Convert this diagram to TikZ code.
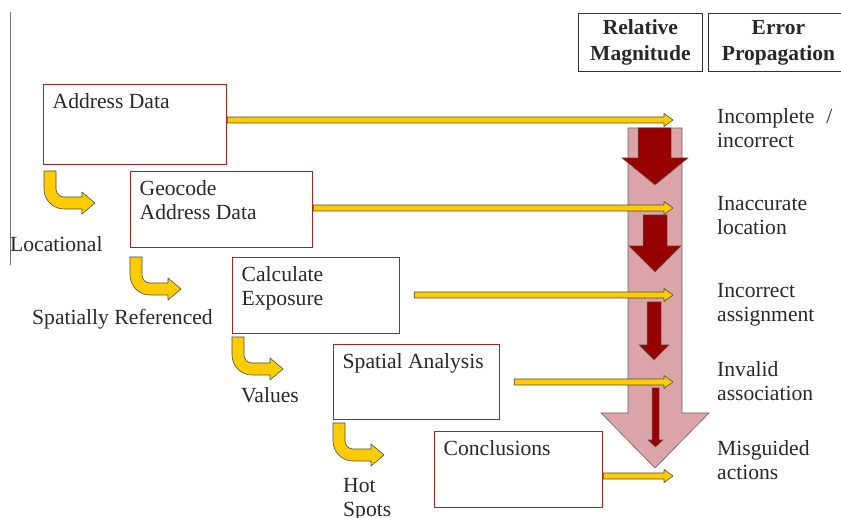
\documentclass[tikz,border=0pt]{standalone}
\usepackage{fontspec}
\setmainfont{Liberation Serif}
\usetikzlibrary{calc}
\definecolor{boxred}{RGB}{165,35,35}
\definecolor{yel}{RGB}{255,204,0}
\definecolor{pinkf}{RGB}{218,164,168}
\definecolor{dred}{RGB}{150,0,0}
\definecolor{txt}{RGB}{40,40,40}
\newcommand\harr[2]{\draw[yarr] let \p1=(#1), \p2=(#2) in
  (\x1,\y2+3pt) -- (\x2-9pt,\y2+3pt) -- (\x2-9pt,\y2+6.5pt) -- (\x2,\y2) --
  (\x2-9pt,\y2-6.5pt) -- (\x2-9pt,\y2-3pt) -- (\x1,\y2-3pt) -- cycle;}
\begin{document}
\begin{tikzpicture}[x=1pt,y=-1pt,
  box/.style={draw=boxred, line width=1.2pt, fill=white, anchor=north west, inner sep=0pt},
  btxt/.style={anchor=north west, inner sep=0pt, font=\fontsize{21.6}{24}\selectfont, align=left, text=txt},
  ltxt/.style={anchor=base west, inner sep=0pt, font=\fontsize{21.6}{24}\selectfont, align=left, text=txt},
  hdr/.style={draw=black!80, line width=0.8pt, inner sep=0pt, anchor=north west, font=\bfseries\fontsize{21.5}{26}\selectfont, align=center, text=txt},
  yarr/.style={fill=yel, draw=black!70, line width=0.6pt, line join=round},
  pinkarr/.style={fill=pinkf, draw=black!60, line width=0.6pt},
  redarr/.style={fill=dred, draw=black!60, line width=0.5pt},
  bent/.pic={\draw[yarr] (0,0) -- (12,0) -- (12,18) .. controls (12,22.4) and (15.6,26) .. (20,26)
     -- (38,26) -- (38,21) -- (51,32) -- (38,43) -- (38,38) -- (20,38)
     .. controls (9,38) and (0,29) .. (0,18) -- cycle;}
]
\useasboundingbox (0,0) rectangle (841,518);

% left vertical rule
\draw[black!55, line width=1pt] (10,12) -- (10,265);

% header boxes
\node[hdr, minimum width=124, minimum height=58] (rm) at (578,13) {Relative\\Magnitude};
\node[hdr, minimum width=140, minimum height=58] (ep) at (708,13) {Error\\Propagation};

% big pink arrow
\draw[pinkarr] (628,128) -- (682,128) -- (682,413) -- (709,413) -- (655,468) -- (601,413) -- (628,413) -- cycle;
% dark red arrows
\draw[redarr] (638,128) -- (671,128) -- (671,158) -- (688,158) -- (655,185) -- (622,158) -- (638,158) -- cycle;
\draw[redarr] (643,215) -- (667,215) -- (667,246) -- (681,246) -- (655,272) -- (629,246) -- (643,246) -- cycle;
\draw[redarr] (647,302) -- (661,302) -- (661,345) -- (669,345) -- (654,360) -- (639,345) -- (647,345) -- cycle;
\draw[redarr] (652,388) -- (659,388) -- (659,440) -- (663,440) -- (655.5,447) -- (648,440) -- (652,440) -- cycle;

% process boxes
\node[box, minimum width=183, minimum height=80] (addr) at (43,84) {};
\node[btxt] (addrt) at ([shift={(9.5,7.2)}]addr.north west) {\strut Address Data};
\node[box, minimum width=182, minimum height=76] (geo) at (130,171) {};
\node[btxt] (geot) at ([shift={(9.5,7.2)}]geo.north west) {\strut Geocode\\Address Data};
\node[box, minimum width=167, minimum height=76] (calc) at (232,257) {};
\node[btxt] (calct) at ([shift={(9.5,7.2)}]calc.north west) {\strut Calculate\\Exposure};
\node[box, minimum width=166, minimum height=75] (spat) at (333,344) {};
\node[btxt] (spatt) at ([shift={(9.5,7.2)}]spat.north west) {\strut Spatial Analysis};
\node[box, minimum width=168, minimum height=76] (conc) at (434,431) {};
\node[btxt] (conct) at ([shift={(9.5,7.2)}]conc.north west) {\strut Conclusions};

% arrow tips
\coordinate (t1) at (673,120);
\coordinate (t2) at (673,208);
\coordinate (t3) at (673,295);
\coordinate (t4) at (673,382);
\coordinate (t5) at (673,476);
\harr{addr.east}{t1}
\harr{geo.east}{t2}
\harr{[xshift=14pt]calc.east}{t3}
\harr{[xshift=14pt]spat.east}{t4}
\harr{conc.east}{t5}

% bent arrows
\pic at (44,171) {bent};
\pic at (130,257) {bent};
\pic at (232,337) {bent};
\pic at (333,423) {bent};

% left labels
\node[ltxt] (l1) at (10,252) {Locational};
\node[ltxt] (l2) at (32,325) {Spatially Referenced};
\node[ltxt] (l3) at (241,403) {Values};
\node[btxt] (l4) at (343,475.2) {\strut Hot\\Spots};

% right labels
\node[btxt] (r1) at (717,106.2) {\strut Incomplete\hspace{0.55em}/\\incorrect};
\node[btxt] (r2) at (717,193.2) {\strut Inaccurate\\location};
\node[btxt] (r3) at (717,280.2) {\strut Incorrect\\assignment};
\node[btxt] (r4) at (717,359.2) {\strut Invalid\\association};
\node[btxt] (r5) at (717,438.2) {\strut Misguided\\actions};
\end{tikzpicture}
\end{document}
